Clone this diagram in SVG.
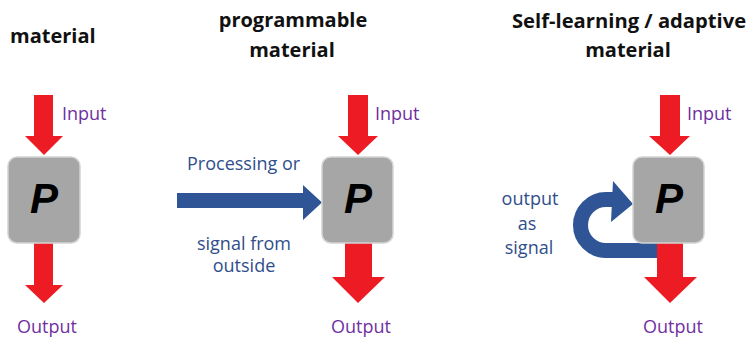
<svg xmlns="http://www.w3.org/2000/svg" width="747" height="338" viewBox="0 0 747 338">
<style>
.title{font-family:"Open Sans","Liberation Sans",sans-serif;font-weight:bold;font-size:20px;fill:#111}
.io{font-family:"Open Sans","Liberation Sans",sans-serif;font-size:18px;fill:#7030A0}
.lbl{font-family:"Open Sans","Liberation Sans",sans-serif;font-size:18px;fill:#2F4E8A}
.box{fill:#A6A6A6;stroke:#D4D4D4;stroke-width:1.5}
.p{font-family:"Liberation Sans",Arial,sans-serif;font-weight:bold;font-style:italic;font-size:42px;fill:#000;text-anchor:middle}
.red{fill:#ED1C24}
.blue{fill:#2F5597}
</style>
<rect width="747" height="338" fill="#fff"/>
<text class="title" x="10" y="43">material</text>
<text class="title" x="293" y="27" text-anchor="middle">programmable</text>
<text class="title" x="292" y="57" text-anchor="middle">material</text>
<text class="title" x="512" y="28" style="font-size:20.2px">Self-learning / adaptive</text>
<text class="title" x="628" y="57" text-anchor="middle">material</text>

<g id="connectors">
<polygon class="red" points="34,95 53,95 53,136 63,136 44,155 25,136 34,136"/>
<polygon class="red" points="34,243 53,243 53,285 63,285 44,303 25,285 34,285"/>
<polygon class="red" points="348,95 368,95 368,136 378,136 358,155 338,136 348,136"/>
<polygon class="red" points="345,243 372,243 372,277 385,277 358,303 332,277 345,277"/>
<polygon class="blue" points="177,193 303,193 303,185 322,202.5 303,220 303,208 177,208"/>
<path d="M 664 250.5 H 606 A 25.5 25.5 0 0 1 606 199.5 H 614" fill="none" stroke="#2F5597" stroke-width="15"/>
<polygon class="blue" points="613,181 633,204 611,222"/>
<polygon class="red" points="660,95 680,95 680,136 690,136 670,155 649,136 660,136"/>
<polygon class="red" points="657,243 683,243 683,277 697,277 670,303 644,277 657,277"/>
</g>

<g id="node1">
<rect class="box" x="8" y="157" width="72" height="86" rx="9"/>
<text class="p" x="44" y="213">P</text>
</g>
<g id="node2">
<rect class="box" x="322" y="157" width="71" height="86" rx="9"/>
<text class="p" x="358" y="213">P</text>
</g>
<g id="node3">
<rect class="box" x="633" y="157" width="71" height="86" rx="9"/>
<text class="p" x="669" y="213">P</text>
</g>

<text class="io" x="62" y="120">Input</text>
<text class="io" x="17" y="333">Output</text>
<text class="io" x="375" y="120">Input</text>
<text class="io" x="361" y="333" text-anchor="middle">Output</text>
<text class="io" x="687" y="120">Input</text>
<text class="io" x="673" y="333" text-anchor="middle">Output</text>

<text class="lbl" x="187" y="170">Processing or</text>
<text class="lbl" x="244" y="250" text-anchor="middle">signal from</text>
<text class="lbl" x="244" y="272" text-anchor="middle">outside</text>
<text class="lbl" x="530" y="205" text-anchor="middle">output</text>
<text class="lbl" x="527" y="230" text-anchor="middle">as</text>
<text class="lbl" x="529" y="254" text-anchor="middle">signal</text>
</svg>
